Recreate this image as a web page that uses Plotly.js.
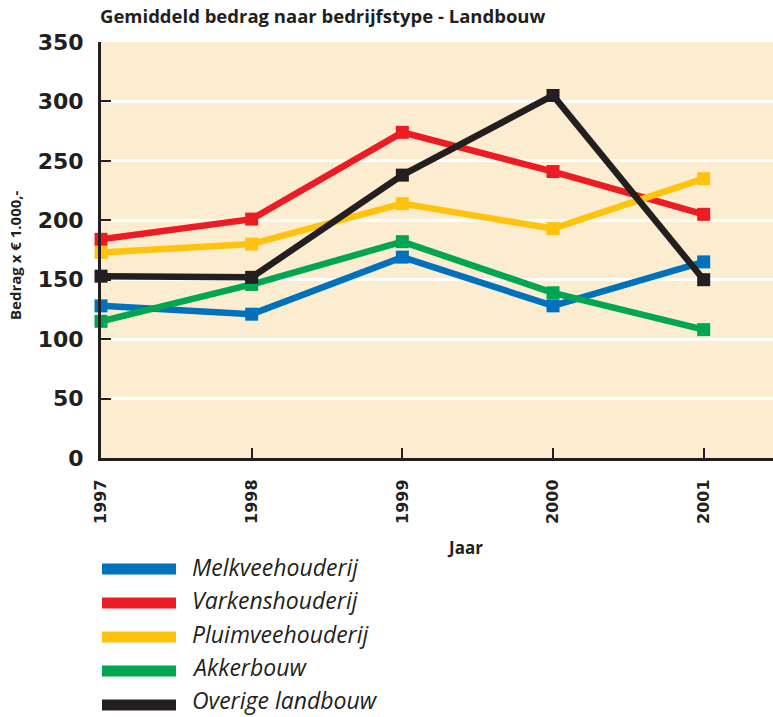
<!DOCTYPE html>
<html>
<head>
<meta charset="utf-8">
<script src="https://cdn.plot.ly/plotly-3.0.1.min.js"></script>
<style>html,body{margin:0;padding:0;background:#fff;}#chart{width:773px;height:717px;}</style>
</head>
<body>
<div id="chart"></div>
<script>
// ---- data ----
const years = [1997, 1998, 1999, 2000, 2001];
const seriesNames = ["Melkveehouderij", "Varkenshouderij", "Pluimveehouderij", "Akkerbouw", "Overige landbouw"];
const melkvee = [128, 121, 169, 128, 165];
const varkens = [184, 201, 274, 241, 205];
const pluimvee = [173, 180, 214, 193, 235];
const akkerbouw = [115, 146, 182, 139, 108];
const overige = [153, 152, 238, 305, 150];
const yTicks = [0, 50, 100, 150, 200, 250, 300, 350];
const chartTitle = "Gemiddeld bedrag naar bedrijfstype - Landbouw";
const xTitle = "Jaar";
const yTitle = "Bedrag x € 1.000,-";

// ---- styling ----
const colors = ["#0071bc", "#ed1c24", "#ffc20e", "#00a651", "#231f20"];
const allSeries = [melkvee, varkens, pluimvee, akkerbouw, overige];
const W = 773, H = 717;
const L = 101, R = 0, T = 42, B = 259;
const pw = W - L - R, ph = H - T - B;
const px2x = p => (p - L) / pw;
const py2y = p => (H - B - p) / ph;
const dark = "#231f20";
const font = "'DejaVu Sans', sans-serif";

const traces = allSeries.map((vals, i) => ({
  x: years, y: vals, name: seriesNames[i], type: "scatter", mode: "lines+markers",
  line: {color: colors[i], width: 6.5},
  marker: {symbol: "square", size: 13, color: colors[i]},
  cliponaxis: false, showlegend: false
}));

const shapes = [];
const annotations = [];
seriesNames.forEach((nm, i) => {
  const cy = 569 + i * 34;
  const ty = 568 + i * 33.3;
  shapes.push({type: "line", xref: "paper", yref: "paper",
    x0: px2x(102), x1: px2x(176), y0: py2y(cy), y1: py2y(cy),
    line: {color: colors[i], width: 11}});
  annotations.push({xref: "paper", yref: "paper", x: px2x(190), y: py2y(ty - 1),
    xanchor: "left", yanchor: "middle", showarrow: false, text: "<i>" + nm + "</i>",
    font: {family: "'Open Sans', sans-serif", size: 23, color: dark}});
});
annotations.push({xref: "paper", yref: "paper", x: px2x(465), y: py2y(547),
  xanchor: "center", yanchor: "middle", showarrow: false, text: "<b>" + xTitle + "</b>",
  font: {family: "'Open Sans', sans-serif", size: 17, color: dark}});
annotations.push({xref: "paper", yref: "paper", x: px2x(15), y: py2y(255),
  xanchor: "center", yanchor: "middle", showarrow: false, textangle: -90, text: "<b>" + yTitle + "</b>",
  font: {family: "'Open Sans', sans-serif", size: 15, color: dark}});

const layout = {
  width: W, height: H,
  margin: {l: L, r: R, t: T, b: B, pad: 0},
  paper_bgcolor: "#ffffff", plot_bgcolor: "#fdedd0",
  title: {text: "<b>" + chartTitle + "</b>", x: 100 / W, xanchor: "left", xref: "container",
    y: 1 - 17 / H, yanchor: "middle", yref: "container",
    font: {family: "'Open Sans', sans-serif", size: 18.5, color: dark}},
  xaxis: {range: [1997, 2001.46], tickvals: years, ticktext: years.map(String),
    tickangle: -90, ticks: "inside", ticklen: 10, tickwidth: 2, tickcolor: dark,
    showline: true, linecolor: dark, linewidth: 3, showgrid: false, zeroline: false,
    tickfont: {family: font, size: 16, color: dark, weight: "bold"}, ticklabelstandoff: 12},
  yaxis: {range: [0, 350], tickvals: yTicks, ticks: "inside", ticklen: 10, tickwidth: 2, tickcolor: dark,
    showline: true, linecolor: dark, linewidth: 3, showgrid: true, gridcolor: "#ffffff", gridwidth: 3,
    zeroline: false, tickfont: {family: font, size: 22, color: dark, weight: "bold"}, ticklabelstandoff: 10},
  shapes: shapes, annotations: annotations
};

Plotly.newPlot("chart", traces, layout, {displayModeBar: false, staticPlot: true});
</script>
</body>
</html>
